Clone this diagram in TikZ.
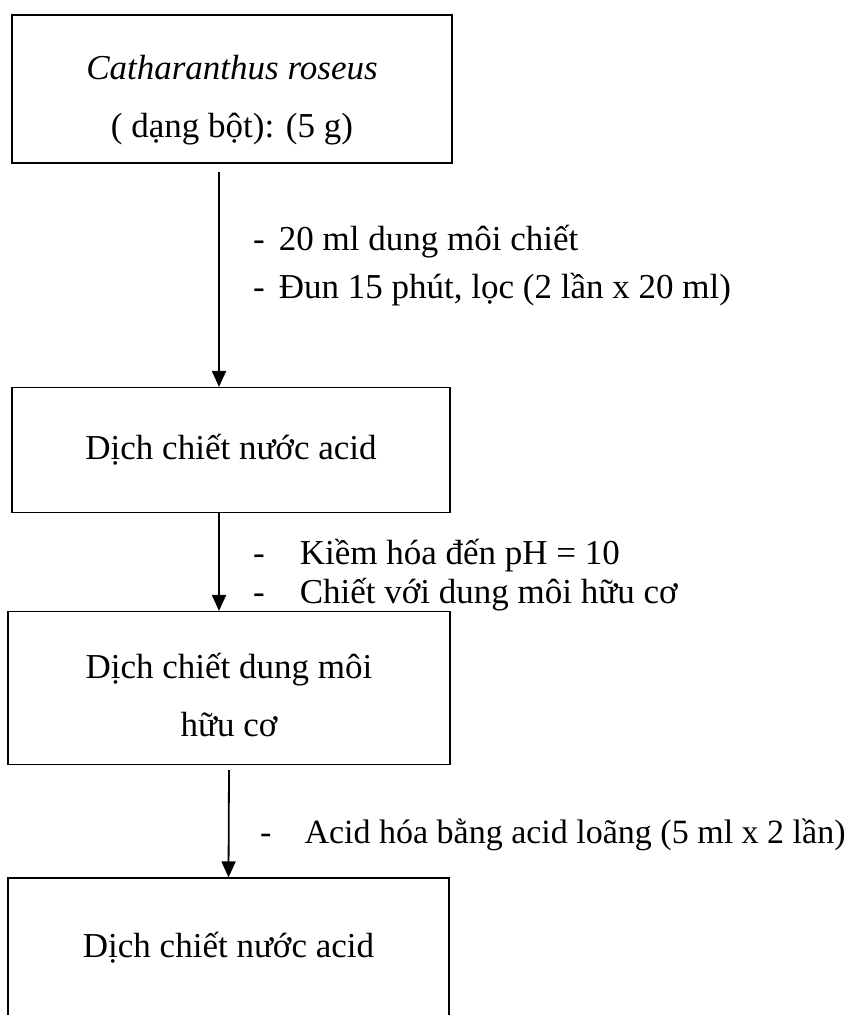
\documentclass[tikz,border=0pt]{standalone}
\usepackage{fontspec}
\setmainfont{Liberation Serif}
\usetikzlibrary{arrows.meta,positioning}

\begin{document}
\begin{tikzpicture}[
  x=1pt, y=-1pt,
  every node/.style = {font=\fontsize{35}{58}\selectfont},
  box/.style  = {draw, line width=1.1pt, inner sep=0pt, align=center},
  flow/.style = {line width=1.8pt, -{Triangle[width=14pt,length=16pt]}},
  note/.style = {anchor=west, inner sep=0pt},
]

% ── Page area ─────────────────────────────────────────────────────────────
\useasboundingbox (0,0) rectangle (859,1015);

% ── Boxes ─────────────────────────────────────────────────────────────────
% the top struts push the two-line texts a little below the middle
\node[box, minimum width=440pt, minimum height=148pt] (powder) at (232,89)
  {\rule{0pt}{47pt}\textit{Catharanthus roseus}\\( dạng bột): (5 g)};
\node[box, minimum width=438pt, minimum height=125pt] (acid1) at (231,450)
  {Dịch chiết nước acid};
\node[box, minimum width=442pt, minimum height=153pt] (organic) at (229,688)
  {\rule{0pt}{40pt}Dịch chiết dung môi\\hữu cơ};
% last box runs past the lower edge
\node[box, minimum width=441pt, minimum height=170pt] (acid2) at (228.5,963)
  {\rule[-36pt]{0pt}{36pt}Dịch chiết nước acid};

% ── Arrows ────────────────────────────────────────────────────────────────
\draw[flow] ([xshift=-13pt, yshift=-8pt]powder.south) -- ([xshift=-12pt]acid1.north);
\draw[flow] ([xshift=-12pt]acid1.south) -- ([xshift=-10pt]organic.north);
\draw[flow] ([yshift=-5pt]organic.south) -- (acid2.north);

% ── Step notes ────────────────────────────────────────────────────────────
\node[note, font=\fontsize{35}{48}\selectfont] (note1) at (253,265)
  {\begin{tabular}{@{}l@{\hspace{14pt}}l@{}}
  - & 20 ml dung môi chiết\\
  - & Đun 15 phút, lọc (2 lần x 20 ml)
  \end{tabular}};
\node[note, font=\fontsize{35}{39}\selectfont] (note2) at (253,576)
  {\begin{tabular}{@{}l@{\hspace{35pt}}l@{}}
  - & Kiềm hóa đến pH = 10\\
  - & Chiết với dung môi hữu cơ
  \end{tabular}};
\node[note, font=\fontsize{34}{40}\selectfont] (note3) at (260,835)
  {\begin{tabular}{@{}l@{\hspace{33pt}}l@{}}
  - & Acid hóa bằng acid loãng (5 ml x 2 lần)
  \end{tabular}};

\end{tikzpicture}
\end{document}
